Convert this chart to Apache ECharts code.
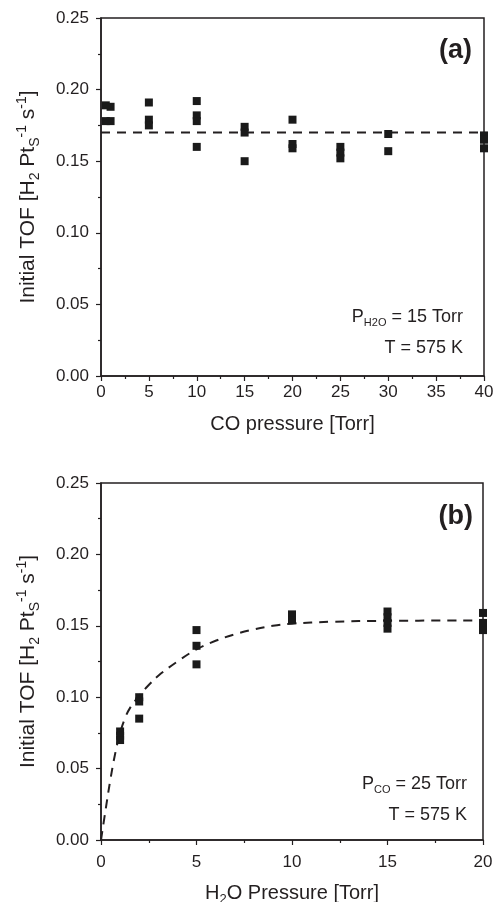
<!DOCTYPE html>
<html>
<head>
<meta charset="utf-8">
<script src="https://cdn.jsdelivr.net/npm/echarts@6/dist/echarts.min.js"></script>
<style>html,body{margin:0;padding:0;background:#fff}#c{width:494px;height:902px}</style>
</head>
<body>
<div id="c"></div>
<script>
// Panel (a): TOF vs CO pressure (P_H2O = 15 Torr, T = 575 K)
var coPressure = [0.5, 0.5, 1, 1, 5, 5, 5, 10, 10, 10, 10, 15, 15, 15, 20, 20, 20, 25, 25, 25, 30, 30, 40, 40, 40];
var tofA = [0.189, 0.178, 0.188, 0.178, 0.191, 0.179, 0.175, 0.192, 0.182, 0.178, 0.160, 0.174, 0.170, 0.150, 0.179, 0.162, 0.159, 0.160, 0.156, 0.152, 0.169, 0.157, 0.168, 0.165, 0.159];
var fitAx = [0, 40];
var fitAy = [0.17, 0.17];

// Panel (b): TOF vs H2O pressure (P_CO = 25 Torr, T = 575 K)
var h2oPressure = [1, 1, 1, 2, 2, 2, 5, 5, 5, 10, 10, 15, 15, 15, 15, 20, 20, 20];
var tofB = [0.076, 0.073, 0.070, 0.100, 0.097, 0.085, 0.147, 0.136, 0.123, 0.158, 0.154, 0.160, 0.156, 0.152, 0.148, 0.159, 0.152, 0.147];
var fitBx = [0, 0.25, 0.5, 0.75, 1, 1.25, 1.5, 2, 2.5, 3, 4, 5, 6, 7, 8, 9, 10, 12, 15, 20];
var fitBy = [0, 0.022, 0.043, 0.061, 0.075, 0.085, 0.092, 0.101, 0.1085, 0.115, 0.125, 0.1335, 0.1395, 0.144, 0.1475, 0.150, 0.1515, 0.1528, 0.1535, 0.1537];

var xTicksA = [0, 40, 5];
var xTicksB = [0, 20, 5];
var yTicks = [0, 0.25, 0.05];

var TXT = '#231f20';
var FONT = '"Liberation Sans", Arial, sans-serif';

function pairs(xs, ys) { return xs.map(function (x, i) { return [x, ys[i]]; }); }

var richMain = {
  n: { fontSize: 20, lineHeight: 26, fontFamily: FONT, color: TXT },
  sub: { fontSize: 13, lineHeight: 13, fontFamily: FONT, color: TXT, verticalAlign: 'bottom' },
  sup: { fontSize: 13, lineHeight: 13, fontFamily: FONT, color: TXT, verticalAlign: 'top' }
};
var richY = {
  n: { fontSize: 21, lineHeight: 27, fontFamily: FONT, color: TXT },
  sub: { fontSize: 14, lineHeight: 14, fontFamily: FONT, color: TXT, verticalAlign: 'bottom' },
  sup: { fontSize: 14, lineHeight: 14, fontFamily: FONT, color: TXT, verticalAlign: 'top' }
};
var yName = '{n|Initial TOF [H}{sub|2}{n| Pt}{sub|S}{sup|-1}{n| s}{sup|-1}{n|]}';

function xAxisCfg(idx, ticks, name, gap, margin) {
  return {
    type: 'value', gridIndex: idx, min: ticks[0], max: ticks[1], interval: ticks[2],
    name: name, nameLocation: 'middle', nameGap: gap,
    nameTextStyle: { rich: richMain, fontFamily: FONT, fontSize: 20, color: TXT },
    axisLine: { lineStyle: { color: TXT, width: 1.5 } },
    axisTick: { inside: false, length: 5, lineStyle: { color: TXT, width: 1.2 } },
    minorTick: { show: true, splitNumber: 2, length: 3, lineStyle: { color: TXT, width: 1.2 } },
    splitLine: { show: false },
    axisLabel: { fontSize: 17, fontFamily: FONT, color: TXT, margin: margin }
  };
}
function yAxisCfg(idx) {
  return {
    type: 'value', gridIndex: idx, min: yTicks[0], max: yTicks[1], interval: yTicks[2],
    name: yName, nameLocation: 'middle', nameRotate: 90, nameGap: 59,
    nameTextStyle: { rich: richY, fontFamily: FONT, fontSize: 21, color: TXT },
    axisLine: { lineStyle: { color: TXT, width: 1.5 } },
    axisTick: { inside: false, length: 5, lineStyle: { color: TXT, width: 1.2 } },
    minorTick: { show: true, splitNumber: 2, length: 3, lineStyle: { color: TXT, width: 1.2 } },
    splitLine: { show: false },
    axisLabel: { fontSize: 17, fontFamily: FONT, color: TXT, margin: 12, formatter: function (v) { return v.toFixed(2); } }
  };
}

var richAnn = {
  n: { fontSize: 18, lineHeight: 22, fontFamily: FONT, color: TXT },
  sub: { fontSize: 11, lineHeight: 11, fontFamily: FONT, color: TXT, verticalAlign: 'bottom' }
};
function ann(text, x, y, rich, bold, size) {
  return {
    type: 'text', x: x, y: y, z: 100,
    style: {
      text: text, rich: rich, align: 'right', verticalAlign: 'middle',
      textAlign: 'right', textVerticalAlign: 'middle',
      fill: TXT, fontFamily: FONT, fontSize: size || 18, fontWeight: bold ? 'bold' : 'normal'
    }
  };
}

var chart = echarts.init(document.getElementById('c'), null, { renderer: 'canvas' });
chart.setOption({
  backgroundColor: '#fff',
  animation: false,
  grid: [
    { left: 101, top: 18, width: 383, height: 358, show: true, borderColor: TXT, borderWidth: 1.5, backgroundColor: 'transparent', outerBoundsMode: 'none', containLabel: false },
    { left: 101, top: 483, width: 382, height: 357, show: true, borderColor: TXT, borderWidth: 1.5, backgroundColor: 'transparent', outerBoundsMode: 'none', containLabel: false }
  ],
  xAxis: [
    xAxisCfg(0, xTicksA, 'CO pressure [Torr]', 38, 8),
    xAxisCfg(1, xTicksB, '{n|H}{sub|2}{n|O Pressure [Torr]}', 40, 14)
  ],
  yAxis: [yAxisCfg(0), yAxisCfg(1)],
  series: [
    { type: 'line', xAxisIndex: 0, yAxisIndex: 0, data: pairs(fitAx, fitAy), symbol: 'none', z: 2,
      lineStyle: { color: TXT, width: 2, type: [9, 7] } },
    { type: 'scatter', xAxisIndex: 0, yAxisIndex: 0, data: pairs(coPressure, tofA), symbol: 'rect', symbolSize: 8, clip: false, z: 3,
      itemStyle: { color: '#1a1a1a', opacity: 1 } },
    { type: 'line', xAxisIndex: 1, yAxisIndex: 1, data: pairs(fitBx, fitBy), symbol: 'none', smooth: 0.4, z: 2,
      lineStyle: { color: TXT, width: 2, type: [9, 7] } },
    { type: 'scatter', xAxisIndex: 1, yAxisIndex: 1, data: pairs(h2oPressure, tofB), symbol: 'rect', symbolSize: 8, clip: false, z: 3,
      itemStyle: { color: '#1a1a1a', opacity: 1 } }
  ],
  graphic: [
    ann('(a)', 472, 51, null, true, 27),
    ann('{n|P}{sub|H2O}{n| = 15 Torr}', 463, 317, richAnn),
    ann('{n|T = 575 K}', 463, 348, richAnn),
    ann('(b)', 473, 517, null, true, 27),
    ann('{n|P}{sub|CO}{n| = 25 Torr}', 467, 784, richAnn),
    ann('{n|T = 575 K}', 467, 815, richAnn)
  ]
});
</script>
</body>
</html>
